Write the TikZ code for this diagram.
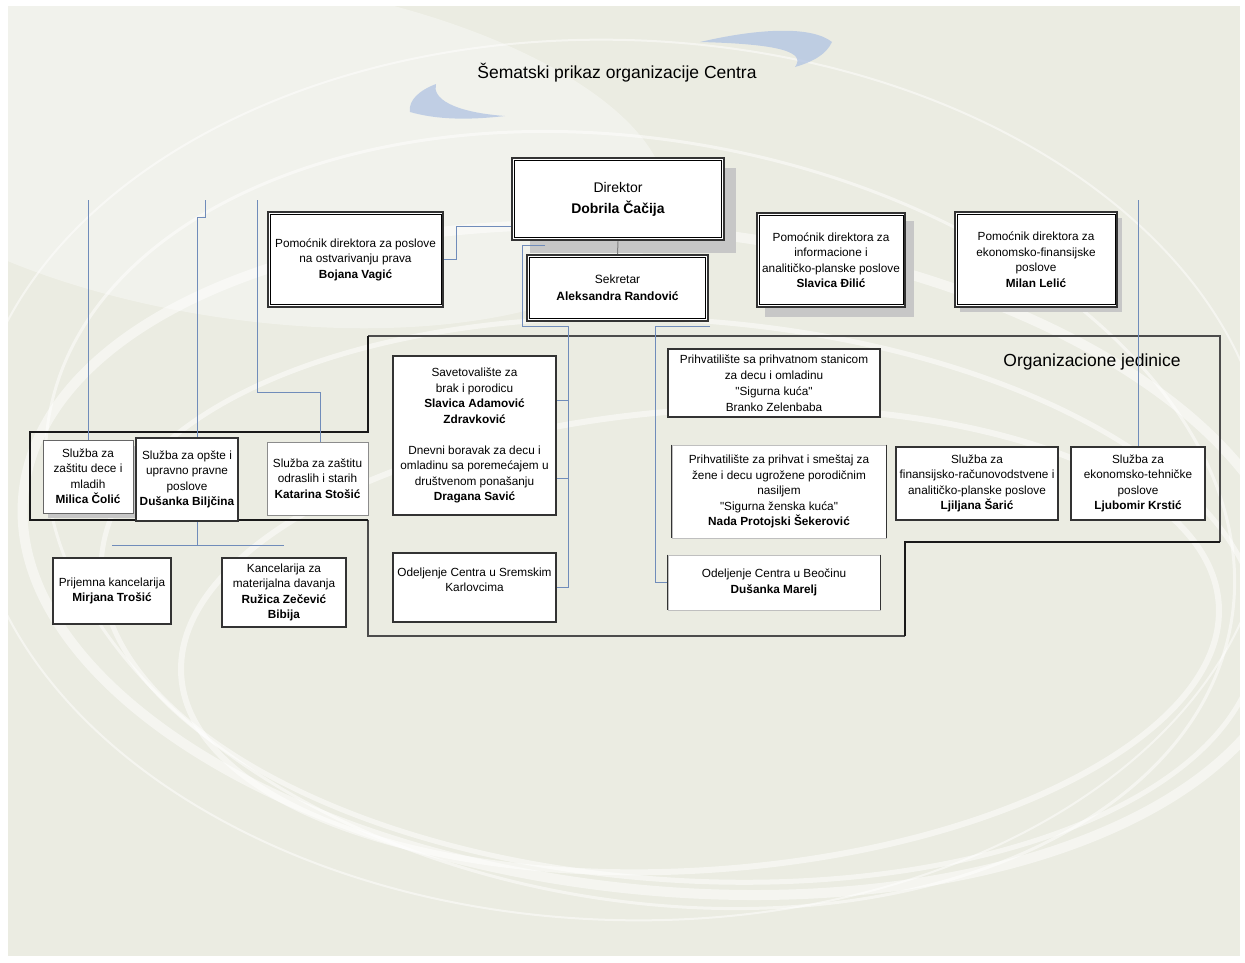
\documentclass[tikz,border=0pt]{standalone}
\usepackage{fontspec}
\setmainfont{Liberation Sans}
\definecolor{bg}{RGB}{235,236,226}
\definecolor{connc}{RGB}{112,140,186}
\definecolor{swooshc}{RGB}{172,192,226}
\newcommand{\qq}[1]{\textquotedbl#1\textquotedbl}
\tikzset{
  box/.style={draw=black!80, fill=white, line width=0.8pt, align=center, inner sep=0pt,
              font=\fontsize{11.8}{15.5}\selectfont},
  conn/.style={draw=connc, line width=1pt},
  thickframe/.style={draw=black!90, line width=2.4pt},
  thinframe/.style={draw=black!70, line width=1.3pt},
  shade box/.style={fill=black!22, draw=none},
  swirl/.style={draw=white, opacity=0.5},
  swoosh/.style={fill=swooshc, draw=none, opacity=0.7},
}
\begin{document}
\begin{tikzpicture}[x=1pt,y=-1pt]
\useasboundingbox (0,0) rectangle (1245,962);
% background
\fill[white] (0,0) rectangle (1245,962);
\fill[bg] (8,6) rectangle (1240,956);
\begin{scope}
  \clip (8,6) rectangle (1240,956);
  \fill[white, opacity=0.35, rotate around={-8:(250,150)}] (250,150) ellipse (420 and 170);
  \draw[swirl, line width=10pt, rotate around={-6:(660,560)}] (660,560) ellipse (640 and 330);
  \draw[swirl, line width=5pt, rotate around={-4:(680,600)}] (680,600) ellipse (580 and 280);
  \draw[swirl, line width=3pt, rotate around={-10:(640,520)}] (640,520) ellipse (600 and 380);
  \draw[swirl, line width=6pt, rotate around={4:(700,640)}] (700,640) ellipse (520 and 230);
  \draw[swirl, line width=2pt, rotate around={-2:(620,480)}] (620,480) ellipse (650 and 440);
\end{scope}
% swooshes near the title
\fill[swoosh] (700,42) .. controls (760,28) and (812,26) .. (832,42)
      .. controls (826,55) and (812,62) .. (795,67)
      .. controls (806,52) and (780,44) .. (700,42);
\fill[swoosh] (505,116) .. controls (470,120) and (438,120) .. (410,112)
      .. controls (408,100) and (420,90) .. (436,84)
      .. controls (432,98) and (452,112) .. (505,116);

% title
\node[font=\fontsize{17.5}{20}\selectfont] (title) at (617,73) {Šematski prikaz organizacije Centra};

% shadows
\fill[shade box] (530,168) rectangle (736,253);
\fill[shade box] (765,221) rectangle (914,317);
\fill[shade box] (960,218) rectangle (1122,312);
\fill[shade box] (48,446) rectangle (138,518);

% free ends / junctions
\coordinate (l1) at (88,200);
\coordinate (l2a) at (205,200);
\coordinate (l2b) at (205,217);
\coordinate (l2c) at (197,217);
\coordinate (l2d) at (197,545);
\coordinate (l2e) at (112,545);
\coordinate (l2f) at (284,545);
\coordinate (l3a) at (257,200);
\coordinate (l3b) at (257,392);
\coordinate (l3c) at (320,392);
\coordinate (r1) at (1138,200);
\coordinate (sa) at (545,245);
\coordinate (sb) at (522,245);
\coordinate (sc) at (522,326);
\coordinate (sd) at (568,326);
\coordinate (se) at (568,400);
\coordinate (sf) at (568,478);
\coordinate (ra) at (710,326);
\coordinate (rb) at (655,326);

% organisational frame
\draw[thinframe] (368,336) -- (1220,336) -- (1220,542);
\draw[thinframe] (905,636) -- (368,636) -- (368,520);
\draw[thickframe] (368,336) -- (368,432) -- (30,432) -- (30,520) -- (368,520);
\draw[thickframe] (1220,542) -- (905,542) -- (905,636);

% nodes
\node[box, line width=2.6pt, minimum width=212pt, minimum height=82pt, font=\fontsize{14}{21}\selectfont]
  (dir) at (618,199) {Direktor\\\textbf{Dobrila Čačija}};
\node[box, line width=2pt, minimum width=181pt, minimum height=66pt, font=\fontsize{12}{17}\selectfont]
  (sek) at (617.5,288) {Sekretar\\\textbf{Aleksandra Randović}};
\node[box, line width=1.8pt, minimum width=175pt, minimum height=95pt]
  (pom1) at (355.5,259.5) {Pomoćnik direktora za poslove\\na ostvarivanju prava\\\textbf{Bojana Vagić}};
\node[box, line width=1.8pt, minimum width=148pt, minimum height=94pt]
  (pom2) at (831,260) {Pomoćnik direktora za\\informacione i\\analitičko-planske poslove\\\textbf{Slavica Đilić}};
\node[box, line width=1.8pt, minimum width=162pt, minimum height=95pt]
  (pom3) at (1036,259.5) {Pomoćnik direktora za\\ekonomsko-finansijske\\poslove\\\textbf{Milan Lelić}};

% connectors (behind the unit boxes)
\draw[black!50, line width=1pt] (dir.south) -- (sek.north);
\draw[conn] (pom1.east) -- ++(13,0) |- ([yshift=-27pt]dir.west);
\draw[conn] (l1) -- (88,440);
\draw[conn] (l2a) -- (l2b) -- (l2c) -- (l2d);
\draw[conn] (l2e) -- (l2f);
\draw[conn] (l3a) -- (l3b) -- (l3c) -- (320,442);
\draw[conn] (r1) -- (1138,447);
\draw[conn] (sa) -- (sb) -- (sc) -- (sd) -- (568,587.5) -- (556,587.5);
\draw[conn] (se) -- (556,400);
\draw[conn] (sf) -- (556,478);
\draw[conn] (ra) -- (rb) |- (668,582.5);

% inner lines of double frames
\draw[line width=0.8pt] ([shift={(4pt,-4pt)}]dir.north west) rectangle ([shift={(-4pt,4pt)}]dir.south east);
\draw[line width=0.8pt] ([shift={(3.5pt,-3.5pt)}]sek.north west) rectangle ([shift={(-3.5pt,3.5pt)}]sek.south east);
\draw[line width=0.7pt] ([shift={(3pt,-3.5pt)}]pom1.north west) rectangle ([shift={(-3pt,3.5pt)}]pom1.south east);
\draw[line width=0.7pt] ([shift={(3pt,-3.5pt)}]pom2.north west) rectangle ([shift={(-3pt,3.5pt)}]pom2.south east);
\draw[line width=0.7pt] ([shift={(3pt,-3.5pt)}]pom3.north west) rectangle ([shift={(-3pt,3.5pt)}]pom3.south east);

\node[font=\fontsize{17.5}{20}\selectfont] (orglbl) at (1092,362) {Organizacione jedinice};
\draw[conn] (1138,336) -- (1138,380);

\node[box, draw=black!60, minimum width=90pt, minimum height=73pt]
  (s1) at (88,476.5) {Služba za\\zaštitu dece i\\mladih\\\textbf{Milica Čolić}};
\node[box, line width=1.2pt, minimum width=102pt, minimum height=83pt]
  (s2) at (187,479.5) {Služba za opšte i\\upravno pravne\\poslove\\\textbf{Dušanka Biljčina}};
\node[box, draw=black!45, minimum width=101pt, minimum height=73pt]
  (s3) at (317.5,478.5) {Služba za zaštitu\\odraslih i starih\\\textbf{Katarina Stošić}};

\node[box, line width=1.2pt, minimum width=118pt, minimum height=66pt]
  (k1) at (112,591) {Prijemna kancelarija\\\textbf{Mirjana Trošić}};
\node[box, line width=1.2pt, minimum width=124pt, minimum height=69pt]
  (k2) at (284,592.5) {Kancelarija za\\materijalna davanja\\\textbf{Ružica Zečević}\\\textbf{Bibija}};

\node[box, line width=1.2pt, minimum width=163pt, minimum height=159pt]
  (sav) at (474.5,435.5) {Savetovalište za\\brak i porodicu\\\textbf{Slavica Adamović}\\\textbf{Zdravković}\\[15.5pt]Dnevni boravak za decu i\\omladinu sa poremećajem u\\društvenom ponašanju\\\textbf{Dragana Savić}};
\node[box, line width=1.2pt, minimum width=163pt, minimum height=69pt]
  (osk) at (474.5,587.5) {Odeljenje Centra u Sremskim\\Karlovcima\\\mbox{}};

\node[box, line width=1.2pt, minimum width=212pt, minimum height=68pt, font=\fontsize{11.8}{16}\selectfont]
  (pri1) at (774,383) {Prihvatilište sa prihvatnom stanicom\\za decu i omladinu\\\qq{Sigurna kuća}\\Branko Zelenbaba};
\node[box, draw=black!25, minimum width=214pt, minimum height=93pt]
  (pri2) at (779,491.5) {Prihvatilište za prihvat i smeštaj za\\žene i decu ugrožene porodičnim\\nasiljem\\\qq{Sigurna ženska kuća}\\\textbf{Nada Protojski Šekerović}};
\draw[line width=1.2pt, black!80] (pri2.north west) -- (pri2.south west) (pri2.north east) -- (pri2.south east);
\node[box, line width=1.2pt, minimum width=162pt, minimum height=73pt]
  (fin) at (977,483.5) {Služba za\\finansijsko-računovodstvene i\\analitičko-planske poslove\\\textbf{Ljiljana Šarić}};
\node[box, line width=1.2pt, minimum width=134pt, minimum height=73pt]
  (eko) at (1138,483.5) {Služba za\\ekonomsko-tehničke\\poslove\\\textbf{Ljubomir Krstić}};
\node[box, draw=black!25, minimum width=212pt, minimum height=55pt]
  (beo) at (774,582.5) {Odeljenje Centra u Beočinu\\\textbf{Dušanka Marelj}};
\draw[line width=1.2pt, black!80] (beo.north west) -- (beo.south west) (beo.north east) -- (beo.south east);
\end{tikzpicture}
\end{document}
